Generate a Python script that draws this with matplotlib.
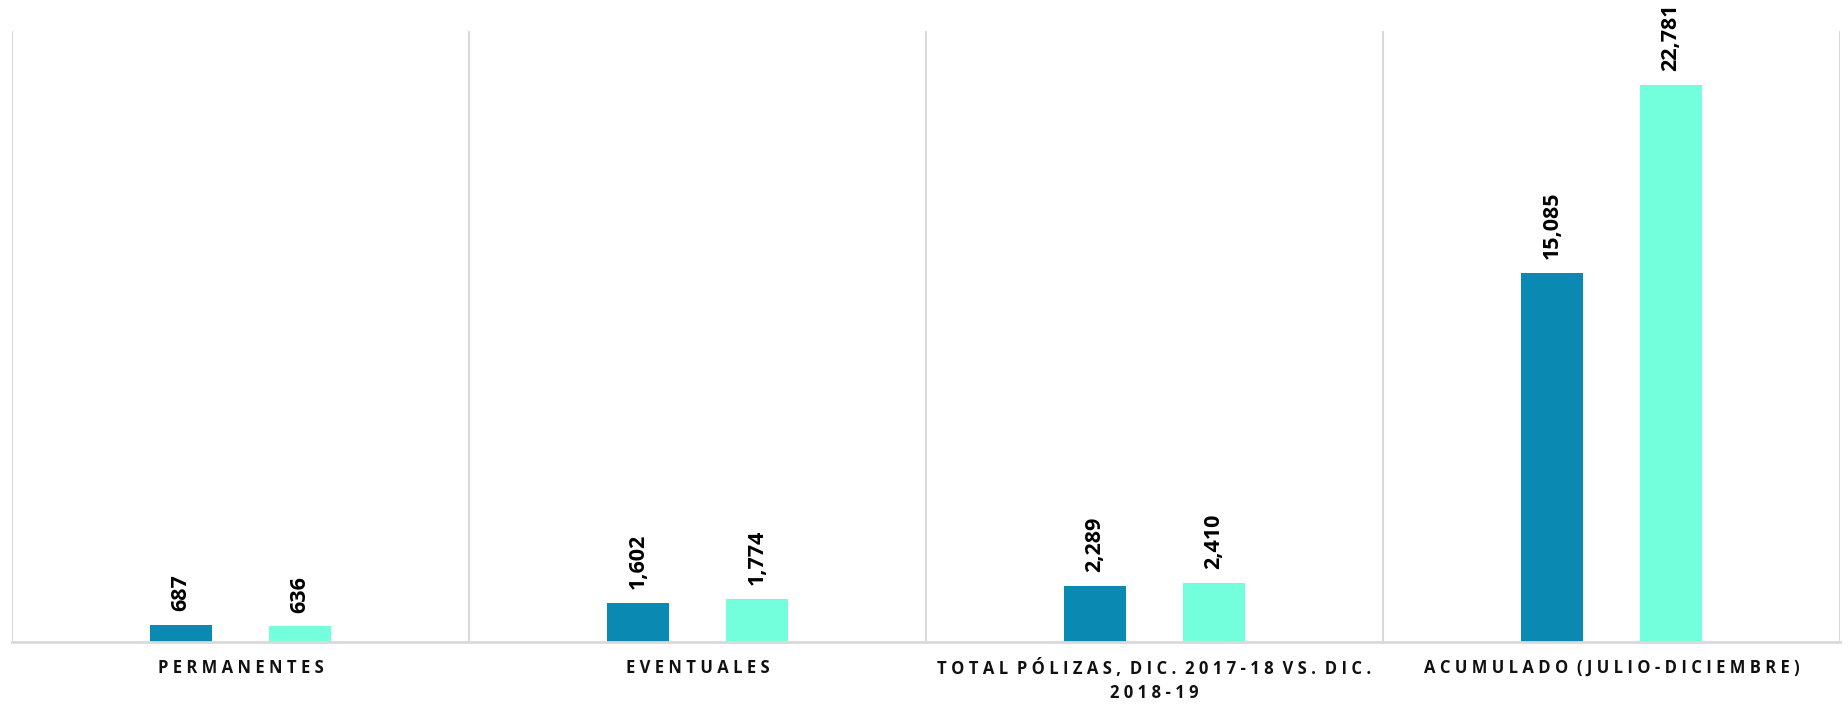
import numpy as np
import matplotlib.pyplot as plt

categories = [
    "PERMANENTES",
    "EVENTUALES",
    "TOTAL PÓLIZAS, DIC. 2017-18  VS. DIC.\n2018-19",
    "ACUMULADO (JULIO-DICIEMBRE)",
]
serie_2017_18 = [687, 1602, 2289, 15085]
serie_2018_19 = [636, 1774, 2410, 22781]

COLOR_A = "#0A89B3"
COLOR_B = "#73FFDC"
GRID = "#D9D9D9"


def spaced(text):
    # imitate the letter spacing of the original axis labels
    lines = []
    for line in text.split("\n"):
        words = [w for w in line.split(" ") if w]
        lines.append("  ".join(" ".join(w) for w in words))
    return "\n".join(lines)


def main():
    plt.rcParams["font.family"] = ["Open Sans", "DejaVu Sans"]
    fig = plt.figure(figsize=(18.48, 7.04), dpi=100)
    ax = fig.add_axes([12 / 1848, 62 / 704, 1828 / 1848, 611 / 704])

    x = np.arange(len(categories))
    width = 0.137
    off = 0.13
    b1 = ax.bar(x - off, serie_2017_18, width, color=COLOR_A)
    b2 = ax.bar(x + off, serie_2018_19, width, color=COLOR_B)

    for bars in (b1, b2):
        ax.bar_label(bars, labels=[f"{v:,}" for v in bars.datavalues],
                     rotation=90, padding=10, fontsize=15.5, fontweight="bold",
                     color="black")

    ax.set_xlim(-0.5, len(categories) - 0.5)
    ax.set_ylim(0, 25000)
    ax.set_yticks([])
    ax.set_xticks(x)
    ax.set_xticklabels([spaced(c) for c in categories], fontsize=12,
                       fontweight="bold", color="#111111", linespacing=1.45)
    ax.tick_params(axis="x", length=0, pad=12)
    ax.set_xticks(np.arange(-0.5, len(categories)), minor=True)
    ax.tick_params(axis="x", which="minor", length=0)
    ax.grid(True, axis="x", which="minor", color=GRID, linewidth=1.5)
    ax.set_axisbelow(True)

    for side in ("top", "left", "right"):
        ax.spines[side].set_visible(False)
    ax.spines["bottom"].set_color(GRID)
    ax.spines["bottom"].set_linewidth(2)

    fig.savefig("out.png", dpi=100)
    plt.close(fig)


if __name__ == "__main__":
    main()
